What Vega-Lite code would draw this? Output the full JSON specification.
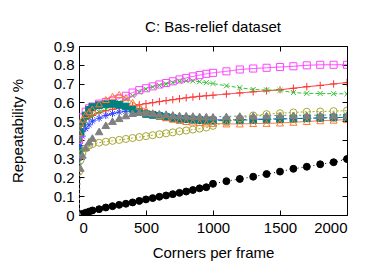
{
  "$schema": "https://vega.github.io/schema/vega-lite/v6.json",
  "autosize": "none",
  "width": 268,
  "height": 169,
  "padding": {"left": 79, "top": 46, "right": 27, "bottom": 47},
  "title": {"text": "C: Bas-relief dataset", "fontSize": 15, "fontWeight": "normal", "font": "Liberation Sans", "color": "#000000", "anchor": "middle", "offset": 4},
  "config": {
    "view": {"stroke": "#000000", "strokeWidth": 1},
    "axis": {"labelFont": "Liberation Sans", "titleFont": "Liberation Sans", "labelFontSize": 15, "titleFontSize": 15, "titleFontWeight": "normal", "labelColor": "#000000", "titleColor": "#000000", "tickColor": "#000000", "grid": false, "domain": false}
  },
  "datasets": {
    "curves": [
      {"s":"plus","x":0,"y":0.40},{"s":"plus","x":10,"y":0.46},{"s":"plus","x":25,"y":0.49},{"s":"plus","x":50,"y":0.51},{"s":"plus","x":75,"y":0.52},{"s":"plus","x":100,"y":0.53},{"s":"plus","x":150,"y":0.545},{"s":"plus","x":200,"y":0.555},{"s":"plus","x":250,"y":0.563},{"s":"plus","x":300,"y":0.57},{"s":"plus","x":350,"y":0.575},{"s":"plus","x":400,"y":0.58},{"s":"plus","x":450,"y":0.587},{"s":"plus","x":500,"y":0.593},{"s":"plus","x":550,"y":0.598},{"s":"plus","x":600,"y":0.604},{"s":"plus","x":650,"y":0.609},{"s":"plus","x":700,"y":0.614},{"s":"plus","x":750,"y":0.619},{"s":"plus","x":800,"y":0.624},{"s":"plus","x":850,"y":0.628},{"s":"plus","x":900,"y":0.632},{"s":"plus","x":950,"y":0.635},{"s":"plus","x":1000,"y":0.638},{"s":"plus","x":1100,"y":0.644},{"s":"plus","x":1200,"y":0.65},{"s":"plus","x":1300,"y":0.656},{"s":"plus","x":1400,"y":0.661},{"s":"plus","x":1500,"y":0.667},{"s":"plus","x":1600,"y":0.675},{"s":"plus","x":1700,"y":0.683},{"s":"plus","x":1800,"y":0.69},{"s":"plus","x":1900,"y":0.698},{"s":"plus","x":2000,"y":0.705},
      {"s":"cross","x":0,"y":0.28},{"s":"cross","x":10,"y":0.40},{"s":"cross","x":25,"y":0.46},{"s":"cross","x":50,"y":0.50},{"s":"cross","x":75,"y":0.52},{"s":"cross","x":100,"y":0.53},{"s":"cross","x":150,"y":0.548},{"s":"cross","x":200,"y":0.565},{"s":"cross","x":250,"y":0.58},{"s":"cross","x":300,"y":0.60},{"s":"cross","x":350,"y":0.617},{"s":"cross","x":400,"y":0.635},{"s":"cross","x":450,"y":0.655},{"s":"cross","x":500,"y":0.67},{"s":"cross","x":550,"y":0.682},{"s":"cross","x":600,"y":0.69},{"s":"cross","x":650,"y":0.698},{"s":"cross","x":700,"y":0.705},{"s":"cross","x":750,"y":0.712},{"s":"cross","x":800,"y":0.715},{"s":"cross","x":850,"y":0.714},{"s":"cross","x":900,"y":0.71},{"s":"cross","x":950,"y":0.705},{"s":"cross","x":1000,"y":0.70},{"s":"cross","x":1100,"y":0.688},{"s":"cross","x":1200,"y":0.678},{"s":"cross","x":1300,"y":0.668},{"s":"cross","x":1400,"y":0.666},{"s":"cross","x":1500,"y":0.664},{"s":"cross","x":1600,"y":0.652},{"s":"cross","x":1700,"y":0.648},{"s":"cross","x":1800,"y":0.647},{"s":"cross","x":1900,"y":0.646},{"s":"cross","x":2000,"y":0.645},
      {"s":"star","x":0,"y":0.30},{"s":"star","x":10,"y":0.37},{"s":"star","x":25,"y":0.42},{"s":"star","x":50,"y":0.46},{"s":"star","x":75,"y":0.48},{"s":"star","x":100,"y":0.50},{"s":"star","x":150,"y":0.515},{"s":"star","x":200,"y":0.53},{"s":"star","x":250,"y":0.54},{"s":"star","x":300,"y":0.548},{"s":"star","x":350,"y":0.552},{"s":"star","x":400,"y":0.553},{"s":"star","x":450,"y":0.55},{"s":"star","x":500,"y":0.545},{"s":"star","x":550,"y":0.54},{"s":"star","x":600,"y":0.533},{"s":"star","x":650,"y":0.528},{"s":"star","x":700,"y":0.523},{"s":"star","x":750,"y":0.518},{"s":"star","x":800,"y":0.515},{"s":"star","x":850,"y":0.512},{"s":"star","x":900,"y":0.51},{"s":"star","x":950,"y":0.508},{"s":"star","x":1000,"y":0.507},{"s":"star","x":1100,"y":0.507},{"s":"star","x":1200,"y":0.508},{"s":"star","x":1300,"y":0.51},{"s":"star","x":1400,"y":0.511},{"s":"star","x":1500,"y":0.512},{"s":"star","x":1600,"y":0.514},{"s":"star","x":1700,"y":0.515},{"s":"star","x":1800,"y":0.517},{"s":"star","x":1900,"y":0.518},{"s":"star","x":2000,"y":0.52},
      {"s":"square","x":0,"y":0.40},{"s":"square","x":10,"y":0.47},{"s":"square","x":25,"y":0.52},{"s":"square","x":50,"y":0.55},{"s":"square","x":75,"y":0.568},{"s":"square","x":100,"y":0.578},{"s":"square","x":150,"y":0.593},{"s":"square","x":200,"y":0.602},{"s":"square","x":250,"y":0.609},{"s":"square","x":300,"y":0.62},{"s":"square","x":350,"y":0.635},{"s":"square","x":400,"y":0.652},{"s":"square","x":450,"y":0.665},{"s":"square","x":500,"y":0.675},{"s":"square","x":550,"y":0.685},{"s":"square","x":600,"y":0.695},{"s":"square","x":650,"y":0.703},{"s":"square","x":700,"y":0.712},{"s":"square","x":750,"y":0.722},{"s":"square","x":800,"y":0.73},{"s":"square","x":850,"y":0.738},{"s":"square","x":900,"y":0.745},{"s":"square","x":950,"y":0.752},{"s":"square","x":1000,"y":0.757},{"s":"square","x":1100,"y":0.765},{"s":"square","x":1200,"y":0.775},{"s":"square","x":1300,"y":0.78},{"s":"square","x":1400,"y":0.784},{"s":"square","x":1500,"y":0.788},{"s":"square","x":1600,"y":0.792},{"s":"square","x":1700,"y":0.797},{"s":"square","x":1800,"y":0.80},{"s":"square","x":1900,"y":0.80},{"s":"square","x":2000,"y":0.80},
      {"s":"fsquare","x":0,"y":0.34},{"s":"fsquare","x":10,"y":0.44},{"s":"fsquare","x":25,"y":0.49},{"s":"fsquare","x":50,"y":0.53},{"s":"fsquare","x":75,"y":0.56},{"s":"fsquare","x":100,"y":0.575},{"s":"fsquare","x":150,"y":0.585},{"s":"fsquare","x":200,"y":0.59},{"s":"fsquare","x":250,"y":0.592},{"s":"fsquare","x":300,"y":0.587},{"s":"fsquare","x":350,"y":0.578},{"s":"fsquare","x":400,"y":0.565},{"s":"fsquare","x":450,"y":0.55},{"s":"fsquare","x":500,"y":0.538},{"s":"fsquare","x":550,"y":0.533},{"s":"fsquare","x":600,"y":0.528},{"s":"fsquare","x":650,"y":0.522},{"s":"fsquare","x":700,"y":0.516},{"s":"fsquare","x":750,"y":0.512},{"s":"fsquare","x":800,"y":0.51},{"s":"fsquare","x":850,"y":0.507},{"s":"fsquare","x":900,"y":0.505},{"s":"fsquare","x":950,"y":0.503},{"s":"fsquare","x":1000,"y":0.502},{"s":"fsquare","x":1100,"y":0.503},{"s":"fsquare","x":1200,"y":0.505},{"s":"fsquare","x":1300,"y":0.507},{"s":"fsquare","x":1400,"y":0.509},{"s":"fsquare","x":1500,"y":0.511},{"s":"fsquare","x":1600,"y":0.513},{"s":"fsquare","x":1700,"y":0.515},{"s":"fsquare","x":1800,"y":0.517},{"s":"fsquare","x":1900,"y":0.519},{"s":"fsquare","x":2000,"y":0.52},
      {"s":"circle","x":0,"y":0.23},{"s":"circle","x":10,"y":0.29},{"s":"circle","x":25,"y":0.33},{"s":"circle","x":50,"y":0.355},{"s":"circle","x":75,"y":0.37},{"s":"circle","x":100,"y":0.378},{"s":"circle","x":150,"y":0.385},{"s":"circle","x":200,"y":0.39},{"s":"circle","x":250,"y":0.395},{"s":"circle","x":300,"y":0.40},{"s":"circle","x":350,"y":0.405},{"s":"circle","x":400,"y":0.41},{"s":"circle","x":450,"y":0.415},{"s":"circle","x":500,"y":0.42},{"s":"circle","x":550,"y":0.425},{"s":"circle","x":600,"y":0.43},{"s":"circle","x":650,"y":0.435},{"s":"circle","x":700,"y":0.44},{"s":"circle","x":750,"y":0.446},{"s":"circle","x":800,"y":0.45},{"s":"circle","x":850,"y":0.455},{"s":"circle","x":900,"y":0.46},{"s":"circle","x":950,"y":0.466},{"s":"circle","x":1000,"y":0.475},{"s":"circle","x":1100,"y":0.495},{"s":"circle","x":1200,"y":0.515},{"s":"circle","x":1300,"y":0.53},{"s":"circle","x":1400,"y":0.537},{"s":"circle","x":1500,"y":0.542},{"s":"circle","x":1600,"y":0.546},{"s":"circle","x":1700,"y":0.55},{"s":"circle","x":1800,"y":0.551},{"s":"circle","x":1900,"y":0.553},{"s":"circle","x":2000,"y":0.556},
      {"s":"fcircle","x":0,"y":0.0},{"s":"fcircle","x":10,"y":0.003},{"s":"fcircle","x":25,"y":0.006},{"s":"fcircle","x":50,"y":0.012},{"s":"fcircle","x":75,"y":0.018},{"s":"fcircle","x":100,"y":0.024},{"s":"fcircle","x":150,"y":0.031},{"s":"fcircle","x":200,"y":0.04},{"s":"fcircle","x":250,"y":0.047},{"s":"fcircle","x":300,"y":0.054},{"s":"fcircle","x":350,"y":0.06},{"s":"fcircle","x":400,"y":0.067},{"s":"fcircle","x":450,"y":0.075},{"s":"fcircle","x":500,"y":0.083},{"s":"fcircle","x":550,"y":0.09},{"s":"fcircle","x":600,"y":0.097},{"s":"fcircle","x":650,"y":0.104},{"s":"fcircle","x":700,"y":0.111},{"s":"fcircle","x":750,"y":0.118},{"s":"fcircle","x":800,"y":0.125},{"s":"fcircle","x":850,"y":0.133},{"s":"fcircle","x":900,"y":0.142},{"s":"fcircle","x":950,"y":0.148},{"s":"fcircle","x":1000,"y":0.166},{"s":"fcircle","x":1100,"y":0.18},{"s":"fcircle","x":1200,"y":0.192},{"s":"fcircle","x":1300,"y":0.204},{"s":"fcircle","x":1400,"y":0.218},{"s":"fcircle","x":1500,"y":0.231},{"s":"fcircle","x":1600,"y":0.246},{"s":"fcircle","x":1700,"y":0.257},{"s":"fcircle","x":1800,"y":0.27},{"s":"fcircle","x":1900,"y":0.281},{"s":"fcircle","x":2000,"y":0.298},
      {"s":"triangle","x":0,"y":0.44},{"s":"triangle","x":10,"y":0.49},{"s":"triangle","x":25,"y":0.51},{"s":"triangle","x":50,"y":0.535},{"s":"triangle","x":75,"y":0.55},{"s":"triangle","x":100,"y":0.565},{"s":"triangle","x":150,"y":0.592},{"s":"triangle","x":200,"y":0.615},{"s":"triangle","x":250,"y":0.632},{"s":"triangle","x":300,"y":0.642},{"s":"triangle","x":350,"y":0.625},{"s":"triangle","x":400,"y":0.60},{"s":"triangle","x":450,"y":0.58},{"s":"triangle","x":500,"y":0.56},{"s":"triangle","x":550,"y":0.545},{"s":"triangle","x":600,"y":0.53},{"s":"triangle","x":650,"y":0.518},{"s":"triangle","x":700,"y":0.51},{"s":"triangle","x":750,"y":0.503},{"s":"triangle","x":800,"y":0.498},{"s":"triangle","x":850,"y":0.495},{"s":"triangle","x":900,"y":0.492},{"s":"triangle","x":950,"y":0.49},{"s":"triangle","x":1000,"y":0.488},{"s":"triangle","x":1100,"y":0.485},{"s":"triangle","x":1200,"y":0.485},{"s":"triangle","x":1300,"y":0.487},{"s":"triangle","x":1400,"y":0.488},{"s":"triangle","x":1500,"y":0.49},{"s":"triangle","x":1600,"y":0.494},{"s":"triangle","x":1700,"y":0.498},{"s":"triangle","x":1800,"y":0.502},{"s":"triangle","x":1900,"y":0.505},{"s":"triangle","x":2000,"y":0.508},
      {"s":"ftriangle","x":0,"y":0.0},{"s":"ftriangle","x":10,"y":0.25},{"s":"ftriangle","x":25,"y":0.32},{"s":"ftriangle","x":50,"y":0.36},{"s":"ftriangle","x":75,"y":0.39},{"s":"ftriangle","x":100,"y":0.41},{"s":"ftriangle","x":150,"y":0.445},{"s":"ftriangle","x":200,"y":0.478},{"s":"ftriangle","x":250,"y":0.50},{"s":"ftriangle","x":300,"y":0.515},{"s":"ftriangle","x":350,"y":0.53},{"s":"ftriangle","x":400,"y":0.542},{"s":"ftriangle","x":450,"y":0.548},{"s":"ftriangle","x":500,"y":0.545},{"s":"ftriangle","x":550,"y":0.541},{"s":"ftriangle","x":600,"y":0.539},{"s":"ftriangle","x":650,"y":0.537},{"s":"ftriangle","x":700,"y":0.533},{"s":"ftriangle","x":750,"y":0.53},{"s":"ftriangle","x":800,"y":0.529},{"s":"ftriangle","x":850,"y":0.527},{"s":"ftriangle","x":900,"y":0.525},{"s":"ftriangle","x":950,"y":0.524},{"s":"ftriangle","x":1000,"y":0.523},{"s":"ftriangle","x":1100,"y":0.525},{"s":"ftriangle","x":1200,"y":0.527},{"s":"ftriangle","x":1300,"y":0.528},{"s":"ftriangle","x":1400,"y":0.529},{"s":"ftriangle","x":1500,"y":0.53},{"s":"ftriangle","x":1600,"y":0.531},{"s":"ftriangle","x":1700,"y":0.531},{"s":"ftriangle","x":1800,"y":0.532},{"s":"ftriangle","x":1900,"y":0.532},{"s":"ftriangle","x":2000,"y":0.533}
    ]
  },
  "data": {"name": "curves"},
  "layer": [
    {
      "mark": {"type": "line", "strokeWidth": 1, "clip": true},
      "encoding": {
        "x": {"field": "x", "type": "quantitative", "scale": {"domain": [0, 2000], "nice": false},
          "axis": {"orient": "bottom", "values": [0, 500, 1000, 1500, 2000], "format": "d", "tickSize": -5, "labelPadding": 10, "title": "Corners per frame", "titleY": 30, "titleBaseline": "top"}},
        "y": {"field": "y", "type": "quantitative", "scale": {"domain": [0, 0.9], "nice": false},
          "axis": {"orient": "left", "values": [0, 0.1, 0.2, 0.3, 0.4, 0.5, 0.6, 0.7, 0.8, 0.9], "format": ".1~f", "tickSize": -5, "labelPadding": 10, "title": "Repeatability %", "titleX": -54, "titleBaseline": "bottom"}},
        "detail": {"field": "s"},
        "color": {"field": "s", "type": "nominal", "legend": null,
          "scale": {"domain": ["plus","cross","star","square","fsquare","circle","fcircle","triangle","ftriangle"],
                    "range": ["#ff3333","#33c033","#3344ff","#ff44ff","#008080","#a8a830","#000000","#ff7733","#808080"]}},
        "strokeDash": {"field": "s", "type": "nominal", "legend": null,
          "scale": {"domain": ["plus","cross","star","square","fsquare","circle","fcircle","triangle","ftriangle"],
                    "range": [[1,0],[4,2],[5,3],[1,0],[5,3],[2,2],[1,3],[1,0],[2,3]]}},
        "order": {"field": "x", "type": "quantitative"}
      }
    },
    {
      "mark": {"type": "point", "strokeWidth": 1, "opacity": 1, "clip": true},
      "encoding": {
        "x": {"field": "x", "type": "quantitative",
          "axis": {"orient": "top", "values": [0, 500, 1000, 1500, 2000], "tickSize": -5, "labels": false, "title": null}},
        "y": {"field": "y", "type": "quantitative",
          "axis": {"orient": "right", "values": [0, 0.1, 0.2, 0.3, 0.4, 0.5, 0.6, 0.7, 0.8, 0.9], "tickSize": -5, "labels": false, "title": null}},
        "shape": {"field": "s", "type": "nominal", "legend": null,
          "scale": {"domain": ["plus","cross","star","square","fsquare","circle","fcircle","triangle","ftriangle"],
                    "range": ["M-1,0H1M0,-1V1","M-0.75,-0.75L0.75,0.75M-0.75,0.75L0.75,-0.75","M-1,0H1M0,-1V1M-0.7,-0.7L0.7,0.7M-0.7,0.7L0.7,-0.7","square","square","circle","circle","triangle-up","triangle-up"]}},
        "size": {"field": "s", "type": "nominal", "legend": null,
          "scale": {"type": "ordinal", "domain": ["plus","cross","star","square","fsquare","circle","fcircle","triangle","ftriangle"],
                    "range": [55, 45, 50, 50, 45, 50, 48, 48, 58]}},
        "stroke": {"field": "s", "type": "nominal", "legend": null,
          "scale": {"domain": ["plus","cross","star","square","fsquare","circle","fcircle","triangle","ftriangle"],
                    "range": ["#ff3333","#33c033","#3344ff","#ff44ff","#008080","#a8a830","#000000","#ff7733","#808080"]}},
        "fill": {"field": "s", "type": "nominal", "legend": null,
          "scale": {"domain": ["plus","cross","star","square","fsquare","circle","fcircle","triangle","ftriangle"],
                    "range": ["transparent","transparent","transparent","transparent","#008080","transparent","#000000","transparent","#808080"]}}
      }
    }
  ],
  "resolve": {"axis": {"x": "independent", "y": "independent"}}
}
